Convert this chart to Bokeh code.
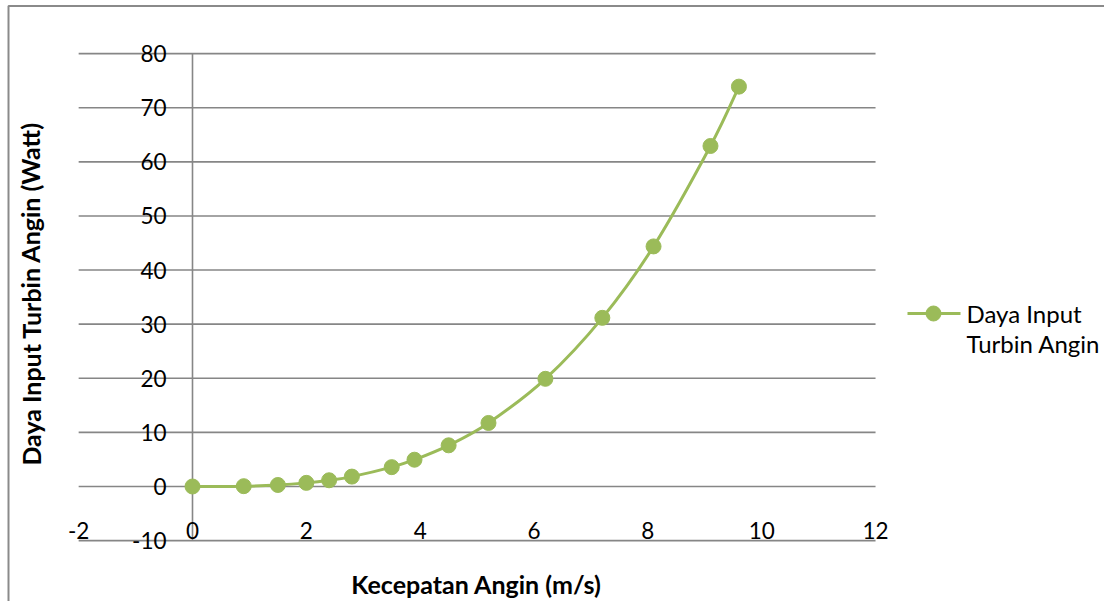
from bokeh.plotting import figure
from bokeh.models import Range1d
from bokeh.core.properties import value
from bokeh.embed import file_html
from bokeh.resources import INLINE

# Wind speed (m/s) and turbine input power (W)
kecepatan = [0.0, 0.9, 1.5, 2.0, 2.4, 2.8, 3.5, 3.9, 4.5, 5.2, 6.2, 7.2, 8.1, 9.1, 9.6]
daya = [0.0, 0.06, 0.28, 0.67, 1.15, 1.83, 3.58, 4.95, 7.61, 11.74, 19.9, 31.17, 44.37, 62.93, 73.9]

x_ticks = [-2, 0, 2, 4, 6, 8, 10, 12]
y_ticks = [-10, 0, 10, 20, 30, 40, 50, 60, 70, 80]
x_tick_labels = ["-2", "0", "2", "4", "6", "8", "10", "12"]
y_tick_labels = ["-10", "0", "10", "20", "30", "40", "50", "60", "70", "80"]

series_name = ["Daya Input", "Turbin Angin"]
x_title = "Kecepatan Angin (m/s)"
y_title = "Daya Input Turbin Angin (Watt)"

W, H = 1104, 601
GREEN = "#9BBB59"
GRID = "#868686"
FONT = "Lato"

# pixel <-> data mapping (plot area spans the full canvas)
X0_PX, X_SCALE = 192.0, 56.92   # px of x=0, px per unit
Y0_PX, Y_SCALE = 486.0, 5.411   # px of y=0, px per unit


def dx(px):
    return (px - X0_PX) / X_SCALE


def dy(py):
    return (Y0_PX - py) / Y_SCALE


p = figure(width=W, height=H, output_backend="svg", toolbar_location=None,
           x_range=Range1d(dx(0), dx(W)), y_range=Range1d(dy(H), dy(0)),
           x_axis_location=None, y_axis_location=None, min_border=0)
p.grid.visible = False
p.outline_line_color = None
p.background_fill_color = "white"
p.border_fill_color = "white"

# chart border (top and left edges)
p.line([dx(8), dx(8), dx(W)], [dy(H), dy(5.5), dy(5.5)], line_color="#8a8a8a", line_width=2)

# horizontal gridlines
p.segment(x0=[x_ticks[0]] * len(y_ticks), x1=[x_ticks[-1]] * len(y_ticks),
          y0=y_ticks, y1=y_ticks, line_color=GRID, line_width=1.6)
# vertical axis line at x = 0
p.segment(x0=[0], x1=[0], y0=[y_ticks[0]], y1=[y_ticks[-1]], line_color=GRID, line_width=1.6)

# tick labels
p.text(x=[dx(166)] * len(y_ticks), y=y_ticks, text=y_tick_labels,
       text_align="right", text_baseline="middle", text_font=value(FONT),
       text_font_size="22.5px", text_color="black")
p.text(x=x_ticks, y=[dy(530)] * len(x_ticks), text=x_tick_labels,
       text_align="center", text_baseline="middle", text_font=value(FONT),
       text_font_size="22.5px", text_color="black")

# axis titles
p.text(x=[dx(476)], y=[dy(583)], text=[x_title], text_align="center",
       text_baseline="middle", text_font=value(FONT), text_font_style="bold",
       text_font_size="25px", text_color="black")
p.text(x=[dx(30)], y=[dy(293)], text=[y_title], text_align="center",
       text_baseline="middle", text_font=value(FONT), text_font_style="bold",
       text_font_size="25px", text_color="black", angle=1.5708)

# smoothed series: cubic Bezier segments through the points (Catmull-Rom style)
n = len(kecepatan)
bx0, by0, bx1, by1, cx0, cy0, cx1, cy1 = [], [], [], [], [], [], [], []
for i in range(n - 1):
    xp, yp = (kecepatan[i - 1], daya[i - 1]) if i > 0 else (kecepatan[i], daya[i])
    xa, ya = kecepatan[i], daya[i]
    xb, yb = kecepatan[i + 1], daya[i + 1]
    xn, yn = (kecepatan[i + 2], daya[i + 2]) if i + 2 < n else (xb, yb)
    bx0.append(xa); by0.append(ya); bx1.append(xb); by1.append(yb)
    cx0.append(xa + (xb - xp) / 6.0); cy0.append(ya + (yb - yp) / 6.0)
    cx1.append(xb - (xn - xa) / 6.0); cy1.append(yb - (yn - ya) / 6.0)
p.bezier(x0=bx0, y0=by0, x1=bx1, y1=by1, cx0=cx0, cy0=cy0, cx1=cx1, cy1=cy1,
         line_color=GREEN, line_width=3)
p.scatter(kecepatan, daya, size=15, fill_color=GREEN, line_color=GREEN)

# legend
p.line([dx(907), dx(960)], [dy(313), dy(313)], line_color=GREEN, line_width=3)
p.scatter([dx(933)], [dy(313)], size=15, fill_color=GREEN, line_color=GREEN)
p.text(x=[dx(966), dx(966)], y=[dy(313), dy(343)], text=series_name,
       text_align="left", text_baseline="middle", text_font=value(FONT),
       text_font_size="24px", text_color="black")

open("out.html", "w").write(file_html(p, INLINE))
